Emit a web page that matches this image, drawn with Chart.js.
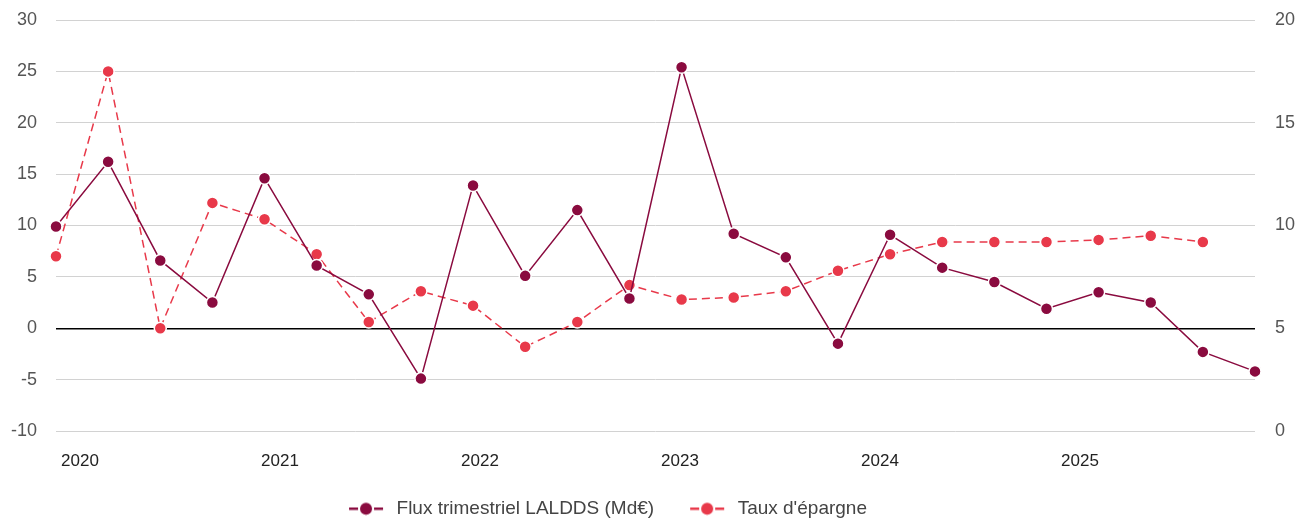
<!DOCTYPE html>
<html>
<head>
<meta charset="utf-8">
<script src="https://cdn.jsdelivr.net/npm/chart.js@4.4.1/dist/chart.umd.min.js"></script>
<style>
  html, body { margin: 0; padding: 0; background: #fff; }
  #wrap { width: 1298px; height: 518px; position: relative; }
</style>
</head>
<body>
<div id="wrap"><canvas id="c"></canvas></div>
<script>
const quarters = ['2019-T4','2020-T1','2020-T2','2020-T3','2020-T4','2021-T1','2021-T2','2021-T3',
  '2021-T4','2022-T1','2022-T2','2022-T3','2022-T4','2023-T1','2023-T2','2023-T3',
  '2023-T4','2024-T1','2024-T2','2024-T3','2024-T4','2025-T1','2025-T2','2025-T3'];
const fluxLALDDS = [9.9, 16.2, 6.6, 2.5, 14.6, 6.1, 3.3, -4.9,
  13.9, 5.1, 11.5, 2.9, 25.4, 9.2, 6.9, -1.5,
  9.1, 5.9, 4.5, 1.9, 3.5, 2.5, -2.3, -4.2];
const tauxEpargne = [8.5, 17.5, 5.0, 11.1, 10.3, 8.6, 5.3, 6.8,
  6.1, 4.1, 5.3, 7.1, 6.4, 6.5, 6.8, 7.8,
  8.6, 9.2, 9.2, 9.2, 9.3, 9.5, 9.2, null];
const yearLabels = [2020, 2021, 2022, 2023, 2024, 2025];
const seriesNames = ['Flux trimestriel LALDDS (Md€)', "Taux d'épargne"];

const DARK = '#8a0b3f';
const RED = '#e8394a';
const FONT = "'Liberation Sans', Arial, Helvetica, sans-serif";

function legendIcon(color) {
  const c = document.createElement('canvas');
  c.width = 70; c.height = 14;
  const g = c.getContext('2d');
  const x0 = 32;
  g.fillStyle = color;
  g.fillRect(x0, 6, 9, 2.5);
  g.fillRect(x0 + 25, 6, 9, 2.5);
  g.beginPath();
  g.arc(x0 + 17, 7.2, 6, 0, Math.PI * 2);
  g.fill();
  return c;
}
const icons = [legendIcon(DARK), legendIcon(RED)];

const legendShift = {
  id: 'legendShift',
  afterLayout(chart) {
    const l = chart.legend;
    if (!l) return;
    l.left -= 57; l.right -= 57;
    l.top += 24; l.bottom += 24;
  }
};

function noOverhang(s, w) {
  s.width = w;
  s.paddingTop = 0;
  s.paddingBottom = 0;
}

new Chart(document.getElementById('c'), {
  type: 'line',
  plugins: [legendShift],
  data: {
    labels: quarters,
    datasets: [
      {
        label: seriesNames[0],
        data: fluxLALDDS,
        yAxisID: 'y',
        borderColor: DARK,
        backgroundColor: DARK,
        borderWidth: 1.5,
        pointRadius: 6,
        pointBorderWidth: 1.5,
        pointBackgroundColor: DARK,
        pointBorderColor: '#fff',
        tension: 0
      },
      {
        label: seriesNames[1],
        data: tauxEpargne,
        yAxisID: 'y1',
        borderColor: RED,
        backgroundColor: RED,
        borderWidth: 1.5,
        borderDash: [8, 5],
        pointRadius: 6,
        pointBorderWidth: 1.5,
        pointBackgroundColor: RED,
        pointBorderColor: '#fff',
        tension: 0
      }
    ]
  },
  options: {
    responsive: true,
    maintainAspectRatio: false,
    animation: false,
    layout: { padding: { top: 20, left: 0, right: 0, bottom: 14 } },
    plugins: {
      tooltip: { enabled: false },
      legend: {
        position: 'bottom',
        labels: {
          usePointStyle: true,
          pointStyleWidth: 70,
          padding: 4,
          color: '#444',
          font: { family: FONT, size: 19 },
          generateLabels: (chart) => {
            const items = Chart.defaults.plugins.legend.labels.generateLabels(chart);
            items.forEach((it, i) => { it.pointStyle = icons[i]; });
            return items;
          }
        }
      }
    },
    scales: {
      x: {
        type: 'category',
        display: false,
        offset: false
      },
      xYears: {
        type: 'linear',
        position: 'bottom',
        min: 2020 - 24 / 200,
        max: 2020 - 24 / 200 + 1199 / 200,
        grid: { display: false, drawTicks: false },
        border: { display: false },
        afterBuildTicks: (axis) => { axis.ticks = yearLabels.map(v => ({ value: v })); },
        ticks: {
          padding: 20,
          color: '#222',
          font: { family: FONT, size: 17 },
          callback: (v) => String(v)
        },
        afterFit: (s) => { s.height = 40; s.paddingLeft = 0; s.paddingRight = 0; }
      },
      y: {
        position: 'left',
        min: -10, max: 30,
        border: { display: false },
        grid: {
          drawTicks: false,
          lineWidth: (ctx) => ctx.tick && ctx.tick.value === 0 ? 1.5 : 1,
          color: (ctx) => ctx.tick && ctx.tick.value === 0 ? '#000' : '#d2d2d2'
        },
        ticks: {
          stepSize: 5,
          padding: 19,
          color: '#555',
          font: { family: FONT, size: 18 }
        },
        afterFit: (s) => noOverhang(s, 56)
      },
      y1: {
        position: 'right',
        min: 0, max: 20,
        border: { display: false },
        grid: { display: false, drawTicks: false },
        ticks: {
          stepSize: 5,
          padding: 20,
          color: '#555',
          font: { family: FONT, size: 18 }
        },
        afterFit: (s) => noOverhang(s, 43)
      }
    }
  }
});
</script>
</body>
</html>
